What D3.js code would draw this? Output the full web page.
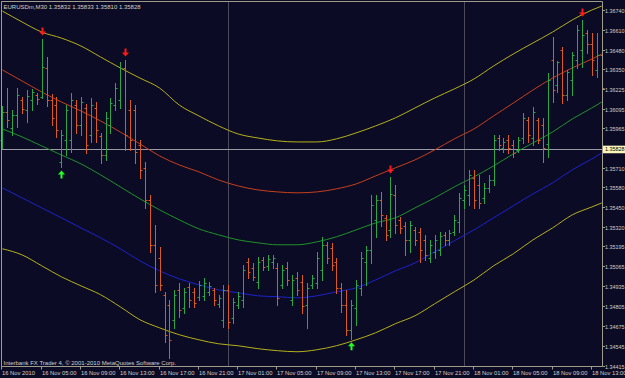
<!DOCTYPE html>
<html><head><meta charset="utf-8">
<script src="https://cdn.jsdelivr.net/npm/d3@7"></script>
<style>html,body{margin:0;padding:0;background:#0c0b26;overflow:hidden}svg{display:block}</style>
</head><body>
<svg id="chart" width="625" height="378"></svg>
<script>
// ---------------- data ----------------
const symbolTitle = "EURUSDm,M30 1.35832 1.35833 1.35810 1.35828";
const copyright = "Interbank FX Trader 4, \u00a9 2001-2010 MetaQuotes Software Corp.";
const timeLabels = ["16 Nov 2010","16 Nov 05:00","16 Nov 09:00","16 Nov 13:00","16 Nov 17:00","16 Nov 21:00",
  "17 Nov 01:00","17 Nov 05:00","17 Nov 09:00","17 Nov 13:00","17 Nov 17:00","17 Nov 21:00",
  "18 Nov 01:00","18 Nov 05:00","18 Nov 09:00","18 Nov 13:00"];
const timeLabelBars = [0,8,16,24,32,40,48,56,64,72,80,88,96,104,112,120];
const daySeparatorBars = [46,94];
const priceTicks = [1.36740,1.36610,1.36480,1.36350,1.36225,1.36095,1.35965,1.35710,1.35580,1.35450,
  1.35320,1.35195,1.35065,1.34935,1.34805,1.34675,1.34545,1.34415];
const lastPrice = 1.35828;

// OHLC bars (M30), index 0 = 16 Nov 01:00
const barOpen = [1.35890,1.36073,1.35968,1.36053,1.36151,1.36086,1.36151,1.36184,1.36171,1.36360,
  1.36151,1.36118,1.35747,1.35890,1.35890,1.36118,1.35988,1.36099,1.35923,1.36099,
  1.35916,1.35792,1.35988,1.36118,1.36151,1.36360,1.36086,1.36086,1.35858,1.35708,
  1.35499,1.35206,1.35121,1.34880,1.34814,1.34717,1.34912,1.34795,1.34932,1.34899,
  1.34867,1.34873,1.34899,1.34912,1.34821,1.34717,1.34912,1.34730,1.34814,1.34847,
  1.35095,1.35056,1.34964,1.35108,1.35069,1.35095,1.35056,1.34945,1.35056,1.34847,
  1.34990,1.34964,1.34814,1.34945,1.34958,1.35043,1.35206,1.35186,1.35095,1.34925,
  1.34814,1.34651,1.34795,1.34925,1.35095,1.35173,1.35369,1.35499,1.35382,1.35303,
  1.35532,1.35369,1.35330,1.35238,1.35303,1.35290,1.35238,1.35121,1.35160,1.35173,
  1.35271,1.35238,1.35290,1.35356,1.35499,1.35532,1.35642,1.35597,1.35512,1.35577,
  1.35629,1.35903,1.35838,1.35890,1.35858,1.35825,1.35903,1.36021,1.35903,1.36021,
  1.35988,1.35864,1.36412,1.36249,1.36477,1.36184,1.36281,1.36412,1.36477,1.36588,
  1.36516,1.36347,1.36444];
const barHigh = [1.36112,1.36229,1.36086,1.36229,1.36171,1.36216,1.36223,1.36197,1.36549,1.36431,
  1.36190,1.36171,1.35955,1.36118,1.36197,1.36151,1.36171,1.36125,1.36164,1.36138,
  1.35936,1.36073,1.36164,1.36262,1.36399,1.36412,1.36151,1.36118,1.35890,1.35747,
  1.35532,1.35336,1.35193,1.34899,1.34847,1.34912,1.34958,1.34925,1.34958,1.34925,
  1.34971,1.34990,1.34964,1.34925,1.34880,1.34945,1.34945,1.34860,1.34899,1.35075,
  1.35121,1.35088,1.35127,1.35127,1.35140,1.35140,1.35088,1.35075,1.35095,1.35010,
  1.35030,1.35010,1.34958,1.35010,1.35160,1.35258,1.35225,1.35219,1.35121,1.34958,
  1.34912,1.34847,1.34977,1.35160,1.35199,1.35532,1.35532,1.35551,1.35401,1.35649,
  1.35597,1.35388,1.35356,1.35362,1.35323,1.35316,1.35271,1.35238,1.35271,1.35290,
  1.35290,1.35303,1.35401,1.35545,1.35597,1.35695,1.35695,1.35662,1.35610,1.35662,
  1.35923,1.35923,1.35903,1.35923,1.35890,1.35910,1.36066,1.36040,1.36105,1.36034,
  1.36034,1.36327,1.36562,1.36405,1.36497,1.36347,1.36464,1.36640,1.36673,1.36607,
  1.36588,1.36588,1.36457];
const barLow = [1.35838,1.35975,1.35923,1.35975,1.36066,1.36008,1.36086,1.36125,1.36164,1.36112,
  1.35988,1.35910,1.35714,1.35792,1.35812,1.35936,1.35923,1.35805,1.35877,1.35877,
  1.35740,1.35760,1.35936,1.36086,1.36099,1.35825,1.35825,1.35740,1.35642,1.35447,
  1.35160,1.34899,1.34912,1.34573,1.34469,1.34664,1.34736,1.34762,1.34801,1.34801,
  1.34847,1.34847,1.34880,1.34814,1.34801,1.34671,1.34664,1.34697,1.34795,1.34801,
  1.34990,1.34977,1.34925,1.35043,1.35043,1.35056,1.34814,1.34925,1.34945,1.34814,
  1.34880,1.34762,1.34664,1.34925,1.34925,1.34977,1.35088,1.35043,1.34893,1.34769,
  1.34619,1.34593,1.34684,1.34880,1.34945,1.35088,1.35258,1.35330,1.35238,1.35258,
  1.35284,1.35284,1.35140,1.35160,1.35206,1.35095,1.35108,1.35095,1.35121,1.35140,
  1.35206,1.35206,1.35271,1.35290,1.35447,1.35466,1.35447,1.35447,1.35479,1.35551,
  1.35597,1.35825,1.35812,1.35805,1.35779,1.35812,1.35871,1.35877,1.35858,1.35871,
  1.35747,1.35779,1.36138,1.36203,1.36131,1.36151,1.36184,1.36360,1.36366,1.36457,
  1.36314,1.36301,1.36216];
const barClose = [1.36073,1.36021,1.36053,1.36184,1.36092,1.36177,1.36203,1.36158,1.36366,1.36151,
  1.36034,1.35955,1.35923,1.36086,1.36151,1.35988,1.36138,1.35858,1.36118,1.35955,
  1.35792,1.36034,1.36131,1.36229,1.36360,1.35923,1.35890,1.35812,1.35695,1.35499,
  1.35206,1.34945,1.34945,1.34619,1.34586,1.34880,1.34782,1.34899,1.34847,1.34827,
  1.34945,1.34958,1.34938,1.34847,1.34860,1.34912,1.34704,1.34834,1.34873,1.35043,
  1.35030,1.34997,1.35095,1.35062,1.35114,1.35121,1.34860,1.35043,1.34977,1.34977,
  1.34912,1.34808,1.34925,1.34990,1.35121,1.35206,1.35121,1.35075,1.34925,1.34814,
  1.34651,1.34814,1.34945,1.35121,1.35173,1.35466,1.35499,1.35401,1.35271,1.35538,
  1.35336,1.35316,1.35238,1.35336,1.35238,1.35173,1.35140,1.35206,1.35238,1.35264,
  1.35238,1.35284,1.35369,1.35512,1.35564,1.35662,1.35499,1.35479,1.35577,1.35629,
  1.35890,1.35858,1.35877,1.35838,1.35805,1.35890,1.36034,1.35923,1.36073,1.35890,
  1.35838,1.36281,1.36216,1.36399,1.36184,1.36334,1.36444,1.36607,1.36575,1.36516,
  1.36412,1.36444,1.36229];

// indicator bands sampled at bar indices
const bandBars = [0,4,8,12,16,20,24,28,32,36,40,44,48,52,56,60,64,68,72,76,80,84,88,92,96,100,104,108,112,116,120,122];
const bandYellowUpper = [1.36731,1.36660,1.36594,1.36555,1.36503,1.36431,1.36360,1.36294,1.36229,1.36118,1.36047,1.35982,1.35929,1.35903,1.35884,1.35877,1.35877,1.35897,1.35936,1.35982,1.36034,1.36099,1.36164,1.36223,1.36288,1.36373,1.36451,1.36523,1.36594,1.36673,1.36738,1.36764];
const bandRed = [1.36347,1.36275,1.36203,1.36138,1.36079,1.36014,1.35942,1.35864,1.35786,1.35727,1.35682,1.35629,1.35590,1.35564,1.35551,1.35545,1.35551,1.35571,1.35603,1.35656,1.35708,1.35760,1.35825,1.35897,1.35962,1.36047,1.36131,1.36216,1.36294,1.36360,1.36418,1.36451];
const bandGreen = [1.35962,1.35910,1.35851,1.35792,1.35734,1.35662,1.35584,1.35506,1.35434,1.35369,1.35310,1.35271,1.35238,1.35219,1.35206,1.35206,1.35225,1.35258,1.35303,1.35349,1.35382,1.35447,1.35512,1.35584,1.35649,1.35721,1.35799,1.35871,1.35942,1.36027,1.36099,1.36138];
const bandBlue = [1.35577,1.35512,1.35447,1.35382,1.35316,1.35251,1.35180,1.35101,1.35036,1.34984,1.34945,1.34912,1.34893,1.34873,1.34867,1.34860,1.34873,1.34899,1.34925,1.34977,1.35036,1.35088,1.35160,1.35232,1.35303,1.35382,1.35460,1.35538,1.35610,1.35695,1.35766,1.35805];
const bandYellowLower = [1.35180,1.35140,1.35069,1.34997,1.34938,1.34880,1.34801,1.34717,1.34664,1.34619,1.34586,1.34560,1.34547,1.34528,1.34515,1.34508,1.34521,1.34547,1.34586,1.34632,1.34691,1.34743,1.34821,1.34899,1.34976,1.35069,1.35147,1.35238,1.35316,1.35401,1.35453,1.35479];

const sellSignalBars = [8,25,79,118];
const buySignalBars = [12,71];

// ---------------- drawing ----------------
const svg = d3.select("#chart");
const W = 625, H = 378;
const plot = {left:1.5, right:602.5, top:1.5, bottom:366.5};
const C = {bg:"#0c0b26", frame:"#a09c8c", text:"#d2d0c8", up:"#28a848", down:"#dc5a1e",
  yellow:"#b4b01a", red:"#c4401c", green:"#1e9228", blue:"#1c22c8", sep:"#8a8a8a", price:"#9a9aa4"};

svg.append("rect").attr("width",W).attr("height",H).attr("fill",C.bg);

const x = d3.scaleLinear().domain([0,122]).range([2.4, 601.7]);
const y = d3.scaleLinear().domain([1.34415,1.36740]).range([366,9.7]);

// day separators
svg.append("g").selectAll("line").data(daySeparatorBars).join("line")
  .attr("x1",d=>Math.round(x(d))+0.5).attr("x2",d=>Math.round(x(d))+0.5)
  .attr("y1",plot.top).attr("y2",plot.bottom)
  .attr("stroke",C.sep).attr("stroke-width",1).attr("stroke-dasharray","1,1");

// current price line
svg.append("line").attr("x1",plot.left).attr("x2",plot.right)
  .attr("y1",Math.round(y(lastPrice))+0.5).attr("y2",Math.round(y(lastPrice))+0.5)
  .attr("stroke",C.price).attr("stroke-width",1);

// bands
const bandLine = vals => d3.line().x((d,i)=>x(bandBars[i])).y(d=>y(d)).curve(d3.curveMonotoneX)(vals);
[[bandYellowUpper,C.yellow],[bandRed,C.red],[bandGreen,C.green],[bandBlue,C.blue],[bandYellowLower,C.yellow]]
  .forEach(([vals,col])=>{
    svg.append("path").attr("d",bandLine(vals)).attr("fill","none").attr("stroke",col).attr("stroke-width",1);
  });

// bars
const bars = barOpen.map((o,i)=>({i,o,h:barHigh[i],l:barLow[i],c:barClose[i]}));
const bg = svg.append("g");
bars.forEach(b=>{
  const col = b.c>=b.o ? C.up : C.down;
  const xx = Math.round(x(b.i))+0.5;
  bg.append("line").attr("x1",xx).attr("x2",xx).attr("y1",Math.round(y(b.h))).attr("y2",Math.round(y(b.l))+1).attr("stroke",col).attr("stroke-width",1);
  bg.append("line").attr("x1",xx-2).attr("x2",xx).attr("y1",Math.round(y(b.o))+0.5).attr("y2",Math.round(y(b.o))+0.5).attr("stroke",col).attr("stroke-width",1);
  bg.append("line").attr("x1",xx).attr("x2",xx+2).attr("y1",Math.round(y(b.c))+0.5).attr("y2",Math.round(y(b.c))+0.5).attr("stroke",col).attr("stroke-width",1);
});

// signal arrows
function arrow(cx, tipY, dir, col){
  const s = dir; // 1 = pointing down, -1 = pointing up
  const p = `M${cx-1},${tipY-s*8} L${cx+1},${tipY-s*8} L${cx+1},${tipY-s*4} L${cx+3.5},${tipY-s*4} L${cx},${tipY} L${cx-3.5},${tipY-s*4} L${cx-1},${tipY-s*4} Z`;
  svg.append("path").attr("d",p).attr("fill",col);
}
sellSignalBars.forEach(i=>arrow(Math.round(x(i))+0.5, y(barHigh[i])-3.5, 1, "#ff1a1a"));
buySignalBars.forEach(i=>arrow(Math.round(x(i))+0.5, y(barLow[i])+3.5, -1, "#22ff22"));

// frame
svg.append("path").attr("d",`M${plot.left},${plot.bottom} V${plot.top} H${plot.right} V${plot.bottom} H${plot.left}`)
  .attr("fill","none").attr("stroke",C.frame).attr("stroke-width",1);

const font = "Liberation Sans, Arial, sans-serif";
// price axis
const pa = svg.append("g");
priceTicks.forEach(p=>{
  const yy = Math.round(y(p))+0.5;
  pa.append("line").attr("x1",plot.right).attr("x2",plot.right+2.5).attr("y1",yy).attr("y2",yy).attr("stroke",C.frame);
  pa.append("text").attr("x",605).attr("y",yy+2).attr("fill",C.text).attr("font-family",font).attr("font-size",5.4).text(p.toFixed(5));
});
// last price label
const ly = y(lastPrice);
svg.append("rect").attr("x",603).attr("y",ly-3.8).attr("width",22).attr("height",7.6).attr("fill","#fbf7b8");
svg.append("text").attr("x",605).attr("y",ly+2).attr("fill","#000").attr("font-family",font).attr("font-size",5.4).text(lastPrice.toFixed(5));

// time axis
const ta = svg.append("g");
timeLabelBars.forEach((b,k)=>{
  const xx = Math.round(x(b)-1)+0.5;
  ta.append("line").attr("x1",xx).attr("x2",xx).attr("y1",plot.bottom).attr("y2",plot.bottom+3).attr("stroke",C.frame);
  ta.append("text").attr("x",xx+0.5).attr("y",374.5).attr("fill",C.text).attr("font-family",font).attr("font-size",5.8).text(timeLabels[k]);
});

// title & copyright
svg.append("text").attr("x",3.5).attr("y",8.8).attr("fill",C.text).attr("font-family",font).attr("font-size",6).text(symbolTitle);
svg.append("text").attr("x",3.5).attr("y",364.5).attr("fill",C.text).attr("font-family",font).attr("font-size",6).text(copyright);
</script>
</body></html>
